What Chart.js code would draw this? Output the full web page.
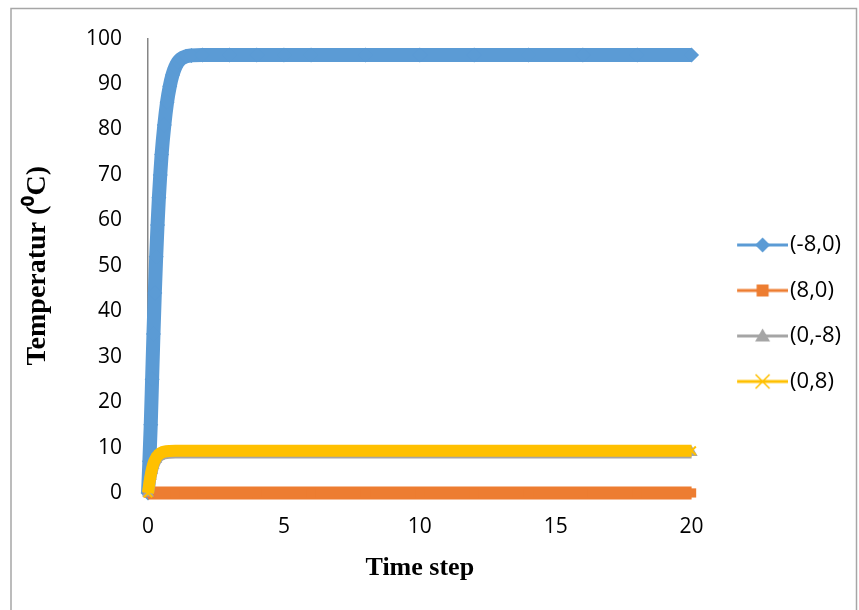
<!DOCTYPE html>
<html><head><meta charset="utf-8">
<script src="https://cdn.jsdelivr.net/npm/chart.js@4/dist/chart.umd.min.js"></script>
<style>html,body{margin:0;padding:0;background:#fff}#wrap{width:859px;height:610px;position:relative}</style>
</head><body><div id="wrap"><canvas id="c"></canvas></div>
<script>
// ---- data ----
const seriesNames = ['(-8,0)', '(8,0)', '(0,-8)', '(0,8)'];
const xTickValues = [0, 5, 10, 15, 20];
const yTickValues = [0, 10, 20, 30, 40, 50, 60, 70, 80, 90, 100];

const timeM8_0 = [0, 0.05, 0.1, 0.15, 0.2, 0.25, 0.3, 0.35, 0.4, 0.45, 0.5, 0.6, 0.7, 0.8, 0.9, 1.0, 1.1, 1.2, 1.4, 1.6, 2, 3, 4, 5, 6, 8, 10, 12, 14, 16, 18, 20];
const tempM8_0 = [0, 7, 15, 25, 35, 44, 52, 59, 65, 70, 74.5, 81, 86, 89.5, 92, 93.7, 94.8, 95.5, 96.1, 96.3, 96.4, 96.4, 96.4, 96.4, 96.4, 96.4, 96.4, 96.4, 96.4, 96.4, 96.4, 96.4];

const timeP8_0 = [0, 1, 2, 4, 6, 8, 10, 12, 14, 16, 18, 20];
const tempP8_0 = [0, 0, 0, 0, 0, 0, 0, 0, 0, 0, 0, 0];

const time0_M8 = [0, 0.05, 0.1, 0.15, 0.2, 0.3, 0.4, 0.5, 0.6, 0.8, 1.0, 1.5, 2, 4, 6, 8, 10, 12, 14, 16, 18, 20];
const temp0_M8 = [0, 2.0, 3.7, 5.0, 6.1, 7.4, 8.1, 8.5, 8.7, 8.85, 8.9, 8.9, 8.9, 8.9, 8.9, 8.9, 8.9, 8.9, 8.9, 8.9, 8.9, 8.9];

const time0_P8 = [0, 0.05, 0.1, 0.15, 0.2, 0.3, 0.4, 0.5, 0.6, 0.8, 1.0, 1.5, 2, 4, 6, 8, 10, 12, 14, 16, 18, 20];
const temp0_P8 = [0, 2.2, 4.0, 5.4, 6.5, 7.8, 8.5, 8.9, 9.1, 9.25, 9.3, 9.3, 9.3, 9.3, 9.3, 9.3, 9.3, 9.3, 9.3, 9.3, 9.3, 9.3];

// ---- styling ----
const colors = ['#5B9BD5', '#ED7D31', '#A5A5A5', '#FFC000'];
const styles = ['rectRot', 'rect', 'triangle', 'crossRot'];
const toXY = (ts, vs) => ts.map((t, i) => ({x: t, y: vs[i]}));
const allData = [toXY(timeM8_0, tempM8_0), toXY(timeP8_0, tempP8_0), toXY(time0_M8, temp0_M8), toXY(time0_P8, temp0_P8)];
const bandWidths = [14, 13, 12, 12];
const pointRadii = [7.5, 6.5, 7, 6];
const orders = [4, 3, 2, 1];

// legend icons (line + marker)
function makeIcon(color, style) {
  const W = 82, H = 22, L = 51;
  const cv = document.createElement('canvas');
  cv.width = W; cv.height = H;
  const g = cv.getContext('2d');
  g.strokeStyle = color; g.lineWidth = 3;
  g.beginPath(); g.moveTo(W - L, H / 2); g.lineTo(W, H / 2); g.stroke();
  const cx = W - L / 2, cy = H / 2;
  g.fillStyle = color;
  if (style === 'rectRot') {
    g.beginPath(); g.moveTo(cx, cy - 7.5); g.lineTo(cx + 7.5, cy); g.lineTo(cx, cy + 7.5); g.lineTo(cx - 7.5, cy); g.closePath(); g.fill();
  } else if (style === 'rect') {
    g.fillRect(cx - 6, cy - 6, 12, 12);
  } else if (style === 'triangle') {
    g.beginPath(); g.moveTo(cx, cy - 7.5); g.lineTo(cx + 7.5, cy + 5.5); g.lineTo(cx - 7.5, cy + 5.5); g.closePath(); g.fill();
  } else {
    g.lineWidth = 1.6;
    g.beginPath(); g.moveTo(cx - 7, cy - 7); g.lineTo(cx + 7, cy + 7); g.moveTo(cx + 7, cy - 7); g.lineTo(cx - 7, cy + 7); g.stroke();
  }
  return cv;
}
const icons = colors.map((c, i) => makeIcon(c, styles[i]));

const framePlugin = {
  id: 'frame',
  beforeDraw(chart) {
    const ctx = chart.ctx;
    ctx.save();
    ctx.strokeStyle = '#a6a6a6'; ctx.lineWidth = 1.5;
    ctx.beginPath();
    ctx.moveTo(11, 610); ctx.lineTo(11, 8.5); ctx.lineTo(856.5, 8.5); ctx.lineTo(856.5, 610);
    ctx.stroke();
    ctx.restore();
  }
};

const datasets = seriesNames.map((name, i) => ({
  label: name,
  data: allData[i],
  borderColor: colors[i],
  backgroundColor: colors[i],
  borderWidth: bandWidths[i],
  pointStyle: styles[i],
  pointRadius: pointRadii[i],
  pointBorderWidth: styles[i] === 'crossRot' ? 2 : 0,
  pointBackgroundColor: colors[i],
  pointBorderColor: colors[i],
  cubicInterpolationMode: 'monotone',
  borderJoinStyle: 'round',
  borderCapStyle: 'butt',
  order: orders[i],
  clip: false
}));

new Chart(document.getElementById('c'), {
  type: 'line',
  data: {datasets},
  plugins: [framePlugin],
  options: {
    responsive: true,
    maintainAspectRatio: false,
    animation: false,
    layout: {padding: {left: 14, top: 37, right: 8, bottom: 20.5}},
    plugins: {
      tooltip: {enabled: false},
      legend: {
        position: 'right',
        align: 'center',
        labels: {
          usePointStyle: true,
          pointStyleWidth: 64,
          boxHeight: 22,
          padding: 23.5,
          color: '#000',
          font: {family: '"Open Sans", sans-serif', size: 22},
          generateLabels(chart) {
            return chart.data.datasets.map((ds, i) => ({
              text: ds.label,
              pointStyle: icons[i],
              fillStyle: ds.borderColor,
              strokeStyle: ds.borderColor,
              lineWidth: 0,
              hidden: false,
              datasetIndex: i,
              fontColor: '#000'
            }));
          }
        }
      }
    },
    scales: {
      x: {
        type: 'linear', min: 0, max: 20,
        afterBuildTicks(s) { s.ticks = xTickValues.map(v => ({value: v})); },
        grid: {display: false, drawTicks: false},
        border: {display: true, color: '#868686', width: 1},
        ticks: {padding: 21.4, color: '#000', font: {family: '"Open Sans", sans-serif', size: 21}},
        title: {display: true, text: 'Time step', color: '#000',
          font: {family: '"Liberation Serif", "Times New Roman", serif', size: 26, weight: 'bold', lineHeight: 0.54},
          padding: {top: 0, bottom: 14.5}}
      },
      y: {
        type: 'linear', min: 0, max: 100,
        afterBuildTicks(s) { s.ticks = yTickValues.map(v => ({value: v})); },
        grid: {display: false, drawTicks: false},
        border: {display: true, color: '#868686', width: 1.5},
        ticks: {padding: 26, color: '#000', font: {family: '"Open Sans", sans-serif', size: 21}},
        title: {display: true, text: 'Temperatur (⁰C)', color: '#000',
          font: {family: '"Liberation Serif", "Times New Roman", serif', size: 28, weight: 'bold'},
          padding: {top: 7.2, bottom: 5.2}}
      }
    }
  }
});
</script>
</body></html>
